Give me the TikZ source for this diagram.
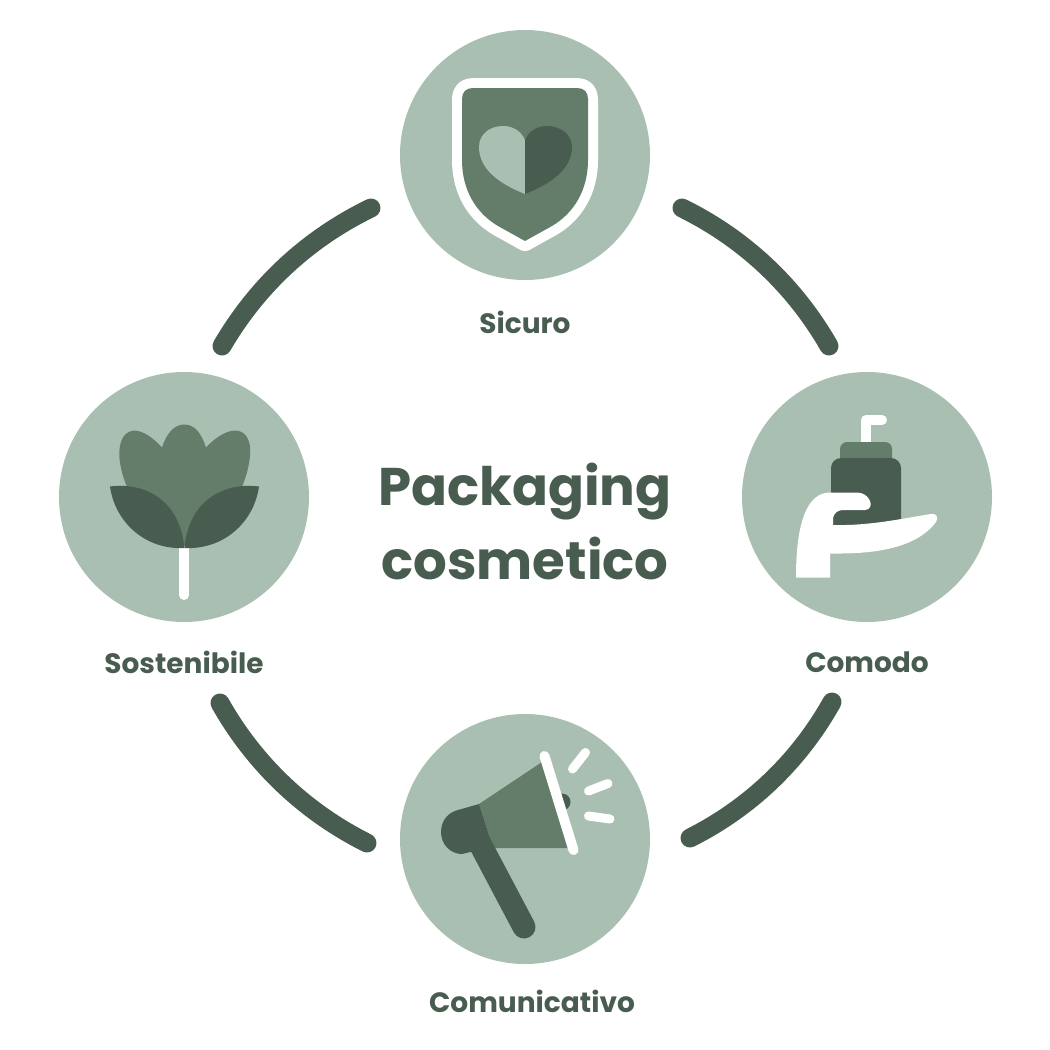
\documentclass[tikz,border=0pt]{standalone}
\usepackage{fontspec}
\setmainfont{Poppins}
\definecolor{sagelight}{HTML}{A9BFB2}
\definecolor{sagemid}{HTML}{647D6B}
\definecolor{sagedark}{HTML}{485D4F}
\tikzset{
  badge/.style={circle,fill=sagelight,minimum size=250pt,inner sep=0pt},
  caption/.style={text=sagedark,font=\bfseries\fontsize{28}{32}\selectfont,inner sep=0pt},
  heading/.style={text=sagedark,font=\bfseries\fontsize{53}{74.5}\selectfont,align=center,inner sep=0pt},
  ring/.style={sagedark,line width=19pt,line cap=round},
  whiteline/.style={white,line width=10pt,line cap=round}
}
\begin{document}
\begin{tikzpicture}[x=1pt,y=-1pt]
  \useasboundingbox (0,0) rectangle (1050,1050);
  \node[badge] (sicuro) at (525,155) {};
  \node[badge] (comodo) at (867,497) {};
  \node[badge] (comunicativo) at (525,839) {};
  \node[badge] (sostenibile) at (184,497) {};
  \node[caption] (sicurolabel) at (525,322) {Sicuro};
  \node[caption] (comodolabel) at (867,662) {Comodo};
  \node[caption] (comunicativolabel) at (532,1001) {Comunicativo};
  \node[caption] (sostenibilelabel) at (184,662) {Sostenibile};
  \node[heading] (title) at (525,521.5) {Packaging\\cosmetico};

  \coordinate (ne1) at (682,208);
  \coordinate (ne2) at (829,346);
  \coordinate (se1) at (832,702);
  \coordinate (se2) at (690,838);
  \coordinate (sw1) at (367,843);
  \coordinate (sw2) at (220,703);
  \coordinate (nw1) at (222,346);
  \coordinate (nw2) at (371,208);
  \draw[ring] (ne1) to[bend left=17,looseness=0.88] (ne2);
  \draw[ring] (se1) to[bend left=17,looseness=0.88] (se2);
  \draw[ring] (sw1) to[bend left=17,looseness=0.88] (sw2);
  \draw[ring] (nw1) to[bend left=17,looseness=0.88] (nw2);

  \draw[white,line width=20pt,line join=round]
    (473,88) -- (577,88) .. controls (584,88) and (588,92) .. (588,99)
    -- (588,160) .. controls (588,190) and (574,213) .. (552,226)
    -- (525,241) -- (498,226)
    .. controls (476,213) and (462,190) .. (462,160) -- (462,99)
    .. controls (462,92) and (466,88) .. (473,88) -- cycle;
  \fill[sagemid]
    (473,88) -- (577,88) .. controls (584,88) and (588,92) .. (588,99)
    -- (588,160) .. controls (588,190) and (574,213) .. (552,226)
    -- (525,241) -- (498,226)
    .. controls (476,213) and (462,190) .. (462,160) -- (462,99)
    .. controls (462,92) and (466,88) .. (473,88) -- cycle;
  \fill[sagelight] (525,194) .. controls (505,186) and (479,172) .. (479,147)
    .. controls (479,134) and (490,126) .. (503,126)
    .. controls (513,126) and (521,131) .. (525,140) -- cycle;
  \fill[sagedark] (525,194) .. controls (545,186) and (572,172) .. (572,147)
    .. controls (572,134) and (560,126) .. (547,126)
    .. controls (537,126) and (529,131) .. (525,140) -- cycle;

  \draw[white,line width=10pt,line cap=round,line join=round]
    (866,442) -- (866,420) -- (882,420);
  \fill[sagemid,rounded corners=7pt] (840,465) -- (840,442) -- (892,442) -- (892,465) -- cycle;
  \fill[sagedark,rounded corners=10pt] (831,530) -- (831,458) -- (901,458) -- (901,530) -- cycle;
  \fill[white] (796,577.5) -- (830,577.5) -- (830,553.5)
    .. controls (870,554) and (915,550) .. (936,522)
    .. controls (939,517) and (936,513) .. (931,514)
    .. controls (905,518) and (870,526) .. (833,525)
    -- (833,518) .. controls (834,513) and (838,510) .. (843,510)
    -- (865,510) .. controls (870,510) and (872,505) .. (870,501)
    .. controls (868,496) and (863,492.5) .. (857,492.5)
    -- (830,492.5) .. controls (808,492.5) and (796,520) .. (796,577.5) -- cycle;

  \fill[sagedark] (562,802) circle (8.5pt);
  \fill[sagemid] (479,804) -- (542,762) -- (568,848) -- (493,848) -- cycle;
  \draw[sagedark,line width=23pt,line cap=round] (478,840) -- (524,927);
  \fill[sagedark] (479,804) -- (493,848) -- (479,850) -- (462,854)
    .. controls (450,854) and (441,844) .. (441,832)
    .. controls (441,820) and (449,812) .. (458,810) -- cycle;
  \draw[whiteline] (544.5,756) -- (573.5,850);
  \draw[whiteline,line width=9pt] (572.5,769) -- (585.5,752.5);
  \draw[whiteline,line width=9pt] (588.5,791) -- (608,783.5);
  \draw[whiteline,line width=9pt] (588.5,816) -- (610,819);

  \draw[whiteline] (184.3,540) -- (184.3,595);
  \fill[sagemid] (184.3,546) .. controls (170,530) and (131,510) .. (127,487)
    .. controls (120,470) and (118,455) .. (120,446)
    .. controls (122,434) and (130,429) .. (138,431)
    .. controls (147,433) and (155,440) .. (162,447.5)
    .. controls (167,432) and (175,424.5) .. (184.3,424.5)
    .. controls (194,424.5) and (201,432) .. (206,447.5)
    .. controls (213,440) and (222,433) .. (231,431)
    .. controls (241,429) and (248,434) .. (250,446)
    .. controls (251,455) and (249,470) .. (242,487)
    .. controls (238,510) and (198,530) .. (184.3,546) -- cycle;
  \fill[sagedark] (110,486.5) .. controls (145,482) and (180,500) .. (184.3,548)
    .. controls (145,550) and (115,522) .. (110,486.5) -- cycle;
  \fill[sagedark] (259,486.5) .. controls (224,482) and (189,500) .. (184.3,548)
    .. controls (224,550) and (254,522) .. (259,486.5) -- cycle;
\end{tikzpicture}
\end{document}
